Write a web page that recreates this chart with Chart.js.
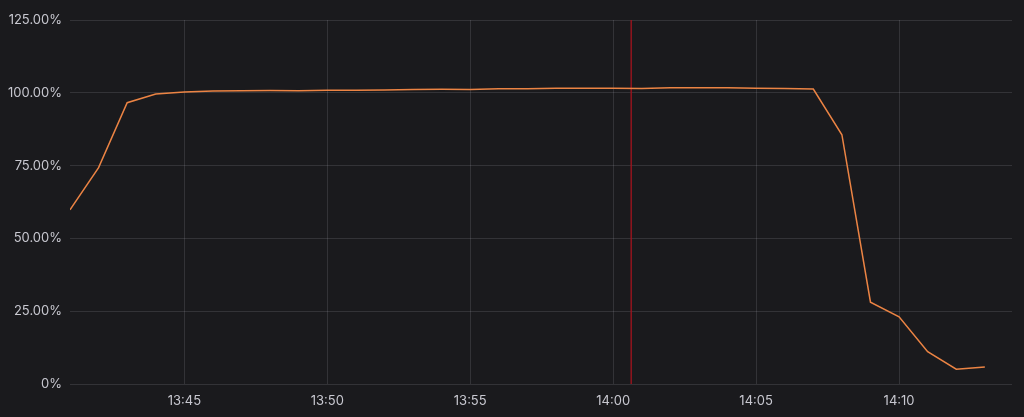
<!DOCTYPE html>
<html>
<head>
<meta charset="utf-8">
<script src="https://cdn.jsdelivr.net/npm/chart.js@4"></script>
<style>
  html, body { margin: 0; padding: 0; background: #1a1a1d; }
  #wrap { width: 1024px; height: 417px; }
</style>
</head>
<body>
<div id="wrap"><canvas id="myChart"></canvas></div>
<script>
// minutes after 13:00
const minutes = [41, 42, 43, 44, 45, 46, 47, 48, 49, 50, 51, 52, 53, 54, 55, 56, 57,
  58, 59, 60, 61, 62, 63, 64, 65, 66, 67, 68, 69, 70, 71, 72, 73];
const usage = [59.8, 74.3, 96.6, 99.6, 100.3, 100.6, 100.7, 100.8, 100.7, 100.9, 100.9,
  101.0, 101.1, 101.2, 101.1, 101.4, 101.4, 101.6, 101.6, 101.6, 101.5, 101.7, 101.7,
  101.7, 101.6, 101.5, 101.3, 85.6, 28.1, 23.1, 11.1, 5.1, 5.8];
const xTicks = [45, 50, 55, 60, 65, 70];
const yTicks = [0, 25, 50, 75, 100, 125];
const markerAt = 60.63;

const ctx = document.getElementById('myChart').getContext('2d');

const fmtTime = (m) => {
  const h = 13 + Math.floor(m / 60);
  const mm = m % 60;
  return h + ':' + String(mm).padStart(2, '0');
};

new Chart(ctx, {
  type: 'line',
  data: {
    datasets: [{
      label: 'usage',
      data: minutes.map((m, i) => ({ x: m, y: usage[i] })),
      borderColor: '#ec8444',
      borderWidth: 1.5,
      pointRadius: 0,
      tension: 0
    }, {
      label: 'marker',
      data: [{ x: markerAt, y: 0 }, { x: markerAt, y: 125 }],
      borderColor: 'rgba(160, 20, 30, 0.9)',
      borderWidth: 1.5,
      pointRadius: 0
    }]
  },
  options: {
    responsive: true,
    maintainAspectRatio: false,
    animation: false,
    layout: { padding: { top: 20, right: 12, left: 0, bottom: 0 } },
    plugins: {
      legend: { display: false },
      tooltip: { enabled: false }
    },
    scales: {
      x: {
        type: 'linear',
        min: 41,
        max: 73.95,
        afterBuildTicks: (scale) => { scale.ticks = xTicks.map(v => ({ value: v })); },
        afterFit: (scale) => { scale.height = 33; },
        grid: { color: 'rgba(204, 204, 220, 0.14)', drawTicks: false },
        border: { display: false },
        ticks: {
          color: '#c8c8d0',
          font: { family: 'Inter', size: 13 },
          padding: 9,
          maxRotation: 0,
          callback: (v) => fmtTime(v)
        }
      },
      y: {
        min: 0,
        max: 125,
        afterBuildTicks: (scale) => { scale.ticks = yTicks.map(v => ({ value: v })); },
        afterFit: (scale) => { scale.width = 70; },
        grid: { color: 'rgba(204, 204, 220, 0.14)', drawTicks: false },
        border: { display: false },
        ticks: {
          color: '#c8c8d0',
          font: { family: 'Inter', size: 13 },
          padding: 8,
          callback: (v) => v === 0 ? '0%' : v.toFixed(2) + '%'
        }
      }
    }
  }
});
</script>
</body>
</html>
